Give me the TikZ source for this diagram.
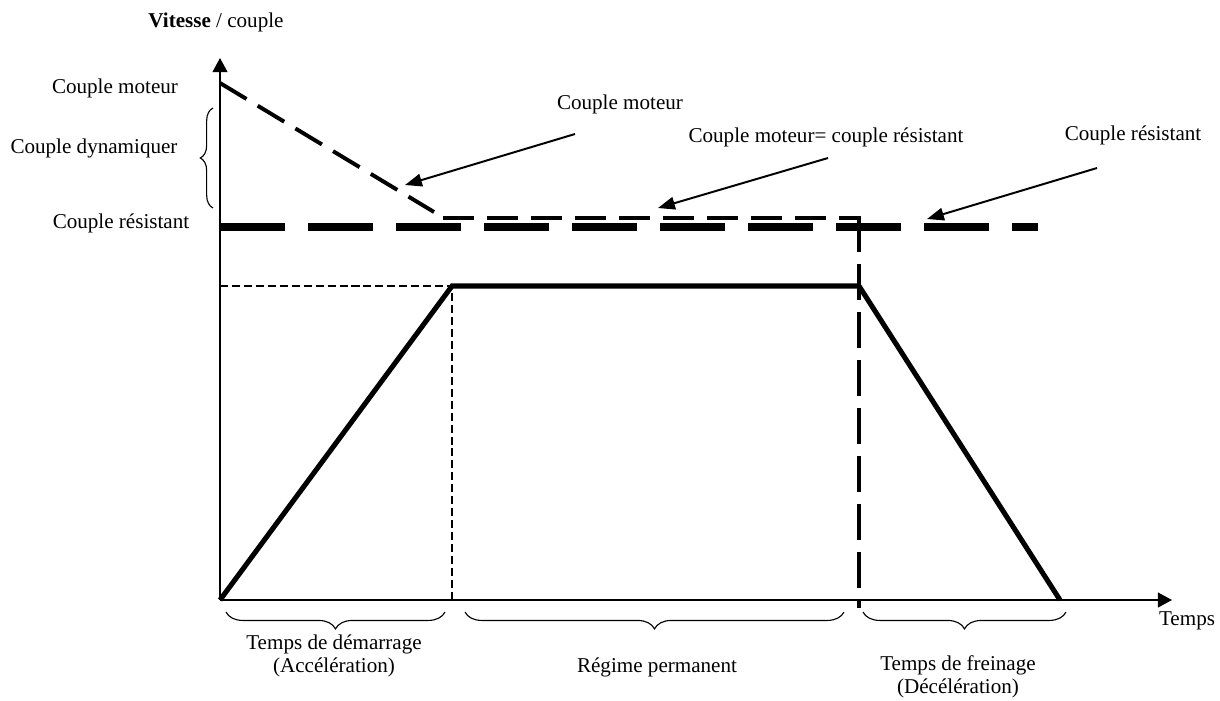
\documentclass[tikz,border=0pt]{standalone}
\usepackage{fontspec}
\setmainfont{Liberation Serif}
\usetikzlibrary{arrows.meta, decorations.pathreplacing}
\tikzset{
every node/.style={font=\fontsize{15}{16.4}\selectfont, inner sep=0pt}, % texte du document
axe/.style={-{Triangle[length=10pt,width=10.5pt]}, line width=1.3pt}, % les deux axes
fleche/.style={-{Triangle[length=12pt,width=9pt]}, line width=1.4pt}, % fleches des etiquettes
vitesse/.style={line width=3.6pt, line join=miter}, % courbe de vitesse
cresistant/.style={line width=5.7pt, dash pattern=on 46.2pt off 16.4pt}, % couple resistant
cmoteur/.style={line width=2.8pt, dash pattern=on 22pt off 9.3pt}, % couple moteur
frein/.style={line width=2.4pt, dash pattern=on 25.6pt off 8.5pt}, % debut du freinage
repere/.style={line width=0.9pt, dash pattern=on 5.7pt off 2.8pt}, % traits de rappel
accolade/.style={decorate, decoration={brace, amplitude=#1}, line width=0.8pt}, % accolades
accolade/.default=12pt,
}

\begin{document}
\begin{tikzpicture}[x=0.025cm, y=-0.025cm]
\useasboundingbox (0,0) rectangle (1220,700);
% points du diagramme
\coordinate (O) at (220,600);
\coordinate (ymax) at (220,58);
\coordinate (xmax) at (1172,600);
\coordinate (v0) at (220,286);
\coordinate (v1) at (452,286);
\coordinate (v2) at (859,286);
\coordinate (v3) at (1060,600);
\coordinate (t1) at (452,600);
\coordinate (cm0) at (220,83);
\coordinate (cm1) at (434,212);
\coordinate (eq0) at (443,218);
\coordinate (eq1) at (861,218);
\coordinate (cr0) at (220,227);
\coordinate (cr1) at (1038,227);
\coordinate (f0) at (859,216);
\coordinate (f1) at (859,608);
% etiquettes
\node (titre) at (216,22) {\textbf{Vitesse} / couple};
\node (cmG) at (115,88) {Couple moteur};
\node (cdG) at (94,148) {Couple dynamiquer};
\node (crG) at (121,223) {Couple résistant};
\node (cmH) at (620,104) {Couple moteur};
\node (eqH) at (826,137) {Couple moteur= couple résistant};
\node (crH) at (1133,135) {Couple résistant};
\node (temps) at (1187,621) {Temps};
\node[align=center] (demarrage) at (334,656) {Temps de démarrage\\(Accélération)};
\node (regime) at (657,667) {Régime permanent};
\node[align=center] (freinage) at (958,677) {Temps de freinage\\(Décélération)};
% origines des fleches
\coordinate (a1) at (575,134);
\coordinate (b1) at (405,185);
\coordinate (a2) at (828,158);
\coordinate (b2) at (658,208);
\coordinate (a3) at (1097,168);
\coordinate (b3) at (927,219);
% accolades
\coordinate (g0) at (213,208);
\coordinate (g1) at (213,108);
\coordinate (d0) at (226,612);
\coordinate (d1) at (445,612);
\coordinate (d2) at (465,612);
\coordinate (d3) at (844,612);
\coordinate (d4) at (863,612);
\coordinate (d5) at (1066,612);

\draw[repere] (v0) -- (v1) -- (t1);
\draw[vitesse] (O) -- (v1) -- (v2) -- (v3);
\draw[frein] (f0) -- (f1);
\draw[cresistant] (cr0) -- (cr1);
\draw[cmoteur] (cm0) -- (cm1);
\draw[cmoteur] (eq0) -- (eq1);
\draw[axe] (O) -- (ymax);
\draw[axe] (O) -- (xmax);
\draw[fleche] (a1) -- (b1);
\draw[fleche] (a2) -- (b2);
\draw[fleche] (a3) -- (b3);
\draw[accolade=9pt] (g0) -- (g1);
\draw[accolade] (d1) -- (d0);
\draw[accolade] (d3) -- (d2);
\draw[accolade] (d5) -- (d4);
\end{tikzpicture}
\end{document}
